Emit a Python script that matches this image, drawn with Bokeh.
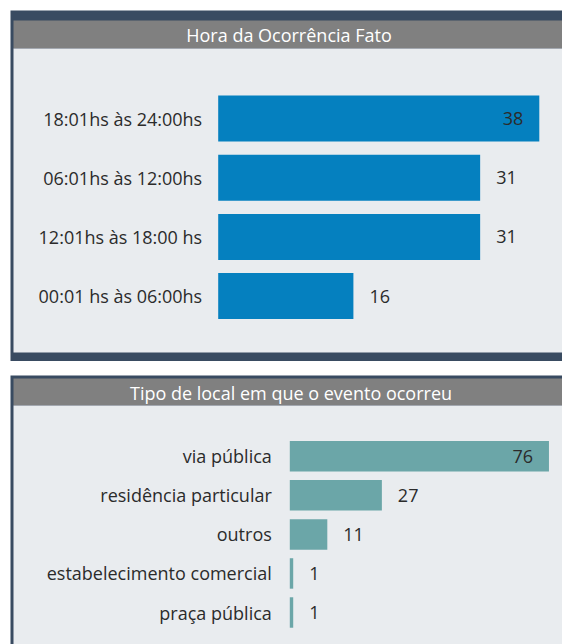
from bokeh.plotting import figure
from bokeh.layouts import column
from bokeh.models import ColumnDataSource, FactorRange, Range1d, LinearScale
from bokeh.transform import dodge
from bokeh.core.properties import value
from bokeh.embed import file_html
from bokeh.resources import INLINE

# ---------------- data ----------------
titulo_hora = "Hora da Ocorrência Fato"
hora_categorias = ["18:01hs às 24:00hs", "06:01hs às 12:00hs",
                   "12:01hs às 18:00 hs", "00:01 hs às 06:00hs"]
hora_valores = [38, 31, 31, 16]

titulo_local = "Tipo de local em que o evento ocorreu"
local_categorias = ["via pública", "residência particular", "outros",
                    "estabelecimento comercial", "praça pública"]
local_valores = [76, 27, 11, 1, 1]

# ---------------- style ----------------
FONT = value("Open Sans")
NAVY = "#394B61"
GRAY = "#808080"
LIGHT = "#E9ECEF"
TEXT = "#2B2B2B"
W = 562


def make_panel(title, cats, vals, color, H, g):
    n = len(cats)
    step = g["step"]
    pad = (H / step - n) / 2.0

    def ys(ypx):
        # pixel row (from top of the figure) -> synthetic coordinate on the factor range
        return -pad + (H - ypx) / step

    shift = ys(g["first_c"]) - (n - 0.5)

    yr = FactorRange(factors=list(reversed(cats)), range_padding=pad,
                     range_padding_units="absolute")
    xr = Range1d(-g["x0"] / g["ppu"], (W - g["x0"]) / g["ppu"])

    p = figure(width=W, height=H, x_range=xr, y_range=yr,
               x_axis_location=None, y_axis_location=None,
               toolbar_location=None, output_backend="svg",
               min_border=0, min_border_left=0, min_border_right=0,
               min_border_top=0, min_border_bottom=0,
               background_fill_color="white", border_fill_color="white",
               outline_line_color=None)
    p.grid.visible = False
    p.extra_x_ranges = {"px": Range1d(0, W)}
    p.extra_x_scales = {"px": LinearScale()}

    # panel frame decorations
    p.quad(left=[10], right=[W], top=[ys(g["top"])], bottom=[ys(H)],
           x_range_name="px", fill_color=NAVY, line_color=None)
    p.quad(left=[13], right=[W], top=[ys(g["t_top"])], bottom=[ys(g["t_bot"])],
           x_range_name="px", fill_color=GRAY, line_color=None)
    p.quad(left=[13], right=[W], top=[ys(g["t_bot"])], bottom=[ys(g["l_bot"])],
           x_range_name="px", fill_color=LIGHT, line_color=None)
    p.text(x=[g["title_x"]], y=[ys((g["t_top"] + g["t_bot"]) / 2.0 + 0.5)],
           text=[title], x_range_name="px",
           text_font=FONT, text_font_size="18px", text_color="white",
           text_align="center", text_baseline="middle")

    mx = max(vals)
    inside = [v == mx for v in vals]
    src = ColumnDataSource(dict(
        cat=cats, val=vals, zero=[0] * n,
        align=["right" if i else "left" for i in inside],
        off=[-16 if i else 16 for i in inside],
        lab=[str(v) for v in vals],
    ))
    ycoord = dodge("cat", shift, range=yr)

    p.hbar(y=ycoord, left="zero", right="val", height=g["bar_h"], source=src,
           fill_color=color, line_color=None)
    # category labels
    p.text(x="zero", y=ycoord, text="cat", source=src,
           x_offset=-g["lab_gap"], text_align="right", text_baseline="middle",
           text_font=FONT, text_font_size="18px", text_color=TEXT)
    # value labels
    p.text(x="val", y=ycoord, text="lab", source=src,
           x_offset="off", text_align="align", text_baseline="middle",
           text_font=FONT, text_font_size="18px", text_color=TEXT)
    return p


p1 = make_panel(titulo_hora, hora_categorias, hora_valores, "#0580BF", 361,
                dict(step=59.2, first_c=118.0, x0=217.7, ppu=8.45,
                     top=10, t_top=20, t_bot=48, l_bot=352,
                     bar_h=0.777, lab_gap=16, title_x=288.5))
p2 = make_panel(titulo_local, local_categorias, local_valores, "#6BA6A8", 283,
                dict(step=39.05, first_c=94.8, x0=289.3, ppu=3.41,
                     top=14, t_top=17, t_bot=44, l_bot=283,
                     bar_h=0.78, lab_gap=18, title_x=290.5))

layout = column(p1, p2, spacing=0)
open("out.html", "w").write(file_html(layout, INLINE))
